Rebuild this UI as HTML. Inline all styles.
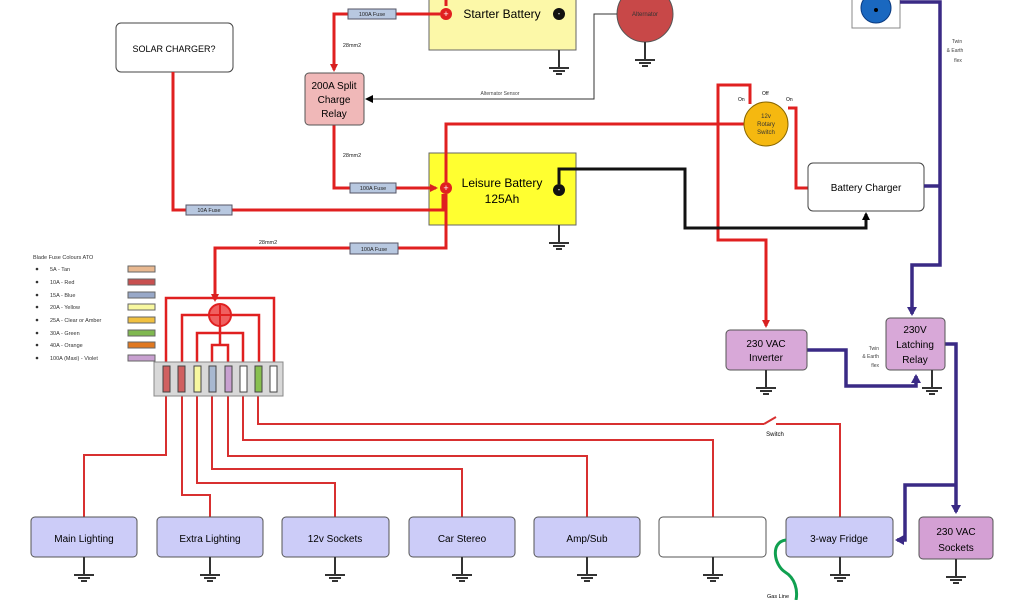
<!DOCTYPE html>
<html><head><meta charset="utf-8"><style>
html,body{margin:0;padding:0;background:#fff;}
svg{display:block;font-family:"Liberation Sans","DejaVu Sans",sans-serif;}
</style></head><body>
<svg width="1024" height="600" viewBox="0 0 1024 600" xmlns="http://www.w3.org/2000/svg">
<defs>
<marker id="ar" markerWidth="8" markerHeight="8" refX="6" refY="4" orient="auto" markerUnits="userSpaceOnUse"><path d="M0,0 L8,4 L0,8z" fill="#d82020"/></marker>
<marker id="ak" markerWidth="8" markerHeight="8" refX="6" refY="4" orient="auto" markerUnits="userSpaceOnUse"><path d="M0,0 L8,4 L0,8z" fill="#000"/></marker>
<marker id="ap" markerWidth="10" markerHeight="10" refX="7" refY="5" orient="auto" markerUnits="userSpaceOnUse"><path d="M0,0 L9,5 L0,10z" fill="#3a2a85"/></marker>
<g id="gnd"><line x1="0" y1="0" x2="0" y2="18" stroke="#333" stroke-width="2"/><line x1="-10" y1="18" x2="10" y2="18" stroke="#333" stroke-width="2"/><line x1="-6" y1="21" x2="6" y2="21" stroke="#333" stroke-width="2"/><line x1="-3" y1="24" x2="3" y2="24" stroke="#333" stroke-width="2"/></g>
</defs>

<rect x="429" y="-5" width="147" height="55" fill="#fcf8a8" stroke="#666"/>
<text x="502" y="18" font-size="12" text-anchor="middle">Starter Battery</text>
<rect x="429" y="153" width="147" height="72" fill="#ffff30" stroke="#666"/>
<text x="502" y="187" font-size="12" text-anchor="middle">Leisure Battery</text>
<text x="502" y="203" font-size="12" text-anchor="middle">125Ah</text>

<circle cx="645" cy="14" r="28" fill="#c84848" stroke="#555"/>
<text x="645" y="16" font-size="6" text-anchor="middle" fill="#333">Alternator</text>
<use href="#gnd" transform="translate(645,42)"/>
<use href="#gnd" transform="translate(559,50)"/>
<use href="#gnd" transform="translate(559,225)"/>

<rect x="116" y="23" width="117" height="49" rx="5" fill="#fff" stroke="#444"/>
<text x="174" y="52" font-size="9" text-anchor="middle">SOLAR CHARGER?</text>

<rect x="852" y="-5" width="48" height="33" fill="#fff" stroke="#888"/>
<circle cx="876" cy="8" r="15" fill="#1a68c0" stroke="#0a3a80"/>
<circle cx="876" cy="10" r="2" fill="#000"/>

<g fill="none" stroke="#e02020" stroke-width="3">
<polyline points="446,0 446,6"/>
<polyline points="440,14 334,14 334,70" marker-end="url(#ar)"/>
<polyline points="334,125 334,188 436,188" marker-end="url(#ar)"/>
<polyline points="173,72 173,210 443,210 443,194"/>
<polyline points="446,194 446,248 215,248 215,300" marker-end="url(#ar)"/>
<polyline points="446,182 446,124 746,124"/>
<polyline points="750,104 750,85 718,85 718,240 766,240 766,326" marker-end="url(#ar)"/>
<polyline points="808,188 796,188 796,108 788,108"/>
</g>
<g fill="none" stroke="#e02020" stroke-width="2.5">
<polyline points="166,366 166,298 274,298 274,366"/>
<polyline points="182,366 182,315 259,315 259,366"/>
<polyline points="197,366 197,333 243,333 243,366"/>
<polyline points="212,366 212,345 228,345 228,366"/>
<line x1="220" y1="304" x2="220" y2="345"/>
</g>
<g fill="none" stroke="#d83030" stroke-width="2">
<polyline points="166,396 166,455 84,455 84,517"/>
<polyline points="182,396 182,495 210,495 210,517"/>
<polyline points="197,396 197,483 335,483 335,517"/>
<polyline points="212,396 212,469 462,469 462,517"/>
<polyline points="228,396 228,456 587,456 587,517"/>
<polyline points="243,396 243,440 713,440 713,517"/>
<polyline points="258,396 258,424 764,424"/>
<polyline points="776,424 840,424 840,517"/>
<line x1="764" y1="424" x2="776" y2="417"/>
</g>
<text x="775" y="436" font-size="6" text-anchor="middle">Switch</text>

<circle cx="446" cy="14" r="6" fill="#e02020"/><text x="446" y="17" font-size="9" fill="#fff" text-anchor="middle">+</text>
<circle cx="559" cy="14" r="6" fill="#111"/><text x="559" y="16" font-size="8" fill="#fff" text-anchor="middle">-</text>
<circle cx="446" cy="188" r="6" fill="#e02020"/><text x="446" y="191" font-size="9" fill="#fff" text-anchor="middle">+</text>
<circle cx="559" cy="190" r="6" fill="#111"/><text x="559" y="192" font-size="8" fill="#fff" text-anchor="middle">-</text>

<polyline points="617,14 594,14 594,99 367,99" fill="none" stroke="#333" stroke-width="1" marker-end="url(#ak)"/>
<text x="500" y="95" font-size="5" text-anchor="middle" fill="#444">Alternator Sensor</text>
<polyline points="559,184 559,169 685,169 685,228 866,228 866,214" fill="none" stroke="#111" stroke-width="3" marker-end="url(#ak)"/>

<g font-size="5.5" text-anchor="middle" fill="#222">
<rect x="348" y="9" width="48" height="10" fill="#b8c8e0" stroke="#556"/><text x="372" y="16">100A Fuse</text>
<rect x="350" y="183" width="46" height="10" fill="#b8c8e0" stroke="#556"/><text x="373" y="190">100A Fuse</text>
<rect x="186" y="205" width="46" height="10" fill="#b8c8e0" stroke="#556"/><text x="209" y="212">10A Fuse</text>
<rect x="350" y="243" width="48" height="11" fill="#b8c8e0" stroke="#556"/><text x="374" y="251">100A Fuse</text>
<text x="352" y="47">28mm2</text>
<text x="352" y="157">28mm2</text>
<text x="268" y="244">28mm2</text>
</g>

<rect x="305" y="73" width="59" height="52" rx="4" fill="#f0b8b8" stroke="#555"/>
<text font-size="10" text-anchor="middle"><tspan x="334" y="89">200A Split</tspan><tspan x="334" y="103">Charge</tspan><tspan x="334" y="117">Relay</tspan></text>

<circle cx="766" cy="124" r="22" fill="#f5b810" stroke="#886600"/>
<text font-size="6" text-anchor="middle" fill="#333"><tspan x="766" y="118">12v</tspan><tspan x="766" y="126">Rotary</tspan><tspan x="766" y="134">Switch</tspan></text>
<text x="738" y="101" font-size="5">On</text><text x="762" y="95" font-size="5">Off</text><text x="786" y="101" font-size="5">On</text>

<rect x="808" y="163" width="116" height="48" rx="5" fill="#fff" stroke="#444"/>
<text x="866" y="191" font-size="10" text-anchor="middle">Battery Charger</text>

<g fill="none" stroke="#3a2a85" stroke-width="3.5">
<polyline points="900,2 940,2 940,265 912,265 912,314" marker-end="url(#ap)"/>
<line x1="924" y1="186" x2="940" y2="186"/>
<polyline points="807,350 846,350 846,386 916,386 916,376" marker-end="url(#ap)"/>
<polyline points="945,344 956,344 956,512" marker-end="url(#ap)"/>
<polyline points="956,485 905,485 905,540 897,540" marker-end="url(#ap)"/>
</g>
<text font-size="5" text-anchor="middle" fill="#444"><tspan x="957" y="43">Twin</tspan><tspan x="955" y="52">&amp; Earth</tspan><tspan x="958" y="62">flex</tspan></text>
<text font-size="5" text-anchor="end" fill="#444"><tspan x="879" y="350">Twin</tspan><tspan x="879" y="358">&amp; Earth</tspan><tspan x="879" y="367">flex</tspan></text>

<rect x="726" y="330" width="81" height="40" rx="4" fill="#d8a8d8" stroke="#555"/>
<text font-size="10" text-anchor="middle"><tspan x="766" y="347">230 VAC</tspan><tspan x="766" y="361">Inverter</tspan></text>
<use href="#gnd" transform="translate(766,370)"/>
<rect x="886" y="318" width="59" height="52" rx="4" fill="#d8a8d8" stroke="#555"/>
<text font-size="10" text-anchor="middle"><tspan x="915" y="333">230V</tspan><tspan x="915" y="348">Latching</tspan><tspan x="915" y="363">Relay</tspan></text>
<use href="#gnd" transform="translate(932,370)"/>

<rect x="154" y="362" width="129" height="34" fill="#d8d8d8" stroke="#888"/>
<g stroke="#444" stroke-width="1">
<rect x="163" y="366" width="7" height="26" fill="#d06060"/>
<rect x="178" y="366" width="7" height="26" fill="#d06060"/>
<rect x="194" y="366" width="7" height="26" fill="#f8f8a0"/>
<rect x="209" y="366" width="7" height="26" fill="#a8b8d0"/>
<rect x="225" y="366" width="7" height="26" fill="#c8a0d0"/>
<rect x="240" y="366" width="7" height="26" fill="#fff"/>
<rect x="255" y="366" width="7" height="26" fill="#88c050"/>
<rect x="270" y="366" width="7" height="26" fill="#fff"/>
</g>
<circle cx="220" cy="315" r="11" fill="#f06060" stroke="#e02020" stroke-width="2"/>
<line x1="209" y1="315" x2="231" y2="315" stroke="#e02020" stroke-width="2"/>
<line x1="220" y1="304" x2="220" y2="326" stroke="#e02020" stroke-width="2"/>

<g font-size="5.5" fill="#333">
<text x="33" y="259">Blade Fuse Colours ATO</text>
<circle cx="37" cy="269" r="1.3"/><text x="50" y="271">5A - Tan</text>
<circle cx="37" cy="282" r="1.3"/><text x="50" y="284">10A - Red</text>
<circle cx="37" cy="295" r="1.3"/><text x="50" y="297">15A - Blue</text>
<circle cx="37" cy="307" r="1.3"/><text x="50" y="309">20A - Yellow</text>
<circle cx="37" cy="320" r="1.3"/><text x="50" y="322">25A - Clear or Amber</text>
<circle cx="37" cy="333" r="1.3"/><text x="50" y="335">30A - Green</text>
<circle cx="37" cy="345" r="1.3"/><text x="50" y="347">40A - Orange</text>
<circle cx="37" cy="358" r="1.3"/><text x="50" y="360">100A (Maxi) - Violet</text>
</g>
<g stroke="#666" stroke-width="1">
<rect x="128" y="266" width="27" height="6" fill="#e8b890"/>
<rect x="128" y="279" width="27" height="6" fill="#c85050"/>
<rect x="128" y="292" width="27" height="6" fill="#98a8c8"/>
<rect x="128" y="304" width="27" height="6" fill="#f8f8a0"/>
<rect x="128" y="317" width="27" height="6" fill="#f0c040"/>
<rect x="128" y="330" width="27" height="6" fill="#80b850"/>
<rect x="128" y="342" width="27" height="6" fill="#e07820"/>
<rect x="128" y="355" width="27" height="6" fill="#c8a0d0"/>
</g>

<g stroke="#555" stroke-width="1">
<rect x="31" y="517" width="106" height="40" rx="4" fill="#ccccf8"/>
<rect x="157" y="517" width="106" height="40" rx="4" fill="#ccccf8"/>
<rect x="282" y="517" width="107" height="40" rx="4" fill="#ccccf8"/>
<rect x="409" y="517" width="106" height="40" rx="4" fill="#ccccf8"/>
<rect x="534" y="517" width="106" height="40" rx="4" fill="#ccccf8"/>
<rect x="659" y="517" width="107" height="40" rx="4" fill="#fff"/>
<rect x="786" y="517" width="107" height="40" rx="4" fill="#ccccf8"/>
<rect x="919" y="517" width="74" height="42" rx="4" fill="#d4a0d4"/>
</g>
<g font-size="10" text-anchor="middle">
<text x="84" y="542">Main Lighting</text>
<text x="210" y="542">Extra Lighting</text>
<text x="335" y="542">12v Sockets</text>
<text x="462" y="542">Car Stereo</text>
<text x="587" y="542">Amp/Sub</text>
<text x="839" y="542">3-way Fridge</text>
<text x="956" y="535">230 VAC</text>
<text x="956" y="551">Sockets</text>
</g>
<use href="#gnd" transform="translate(84,557)"/>
<use href="#gnd" transform="translate(210,557)"/>
<use href="#gnd" transform="translate(335,557)"/>
<use href="#gnd" transform="translate(462,557)"/>
<use href="#gnd" transform="translate(587,557)"/>
<use href="#gnd" transform="translate(713,557)"/>
<use href="#gnd" transform="translate(840,557)"/>
<use href="#gnd" transform="translate(956,559)"/>

<path d="M786,540 C770,542 774,565 785,572 C795,578 798,590 796,600" fill="none" stroke="#10a050" stroke-width="3"/>
<text x="778" y="598" font-size="5.5" text-anchor="middle">Gas Line</text>
</svg>
</body></html>
